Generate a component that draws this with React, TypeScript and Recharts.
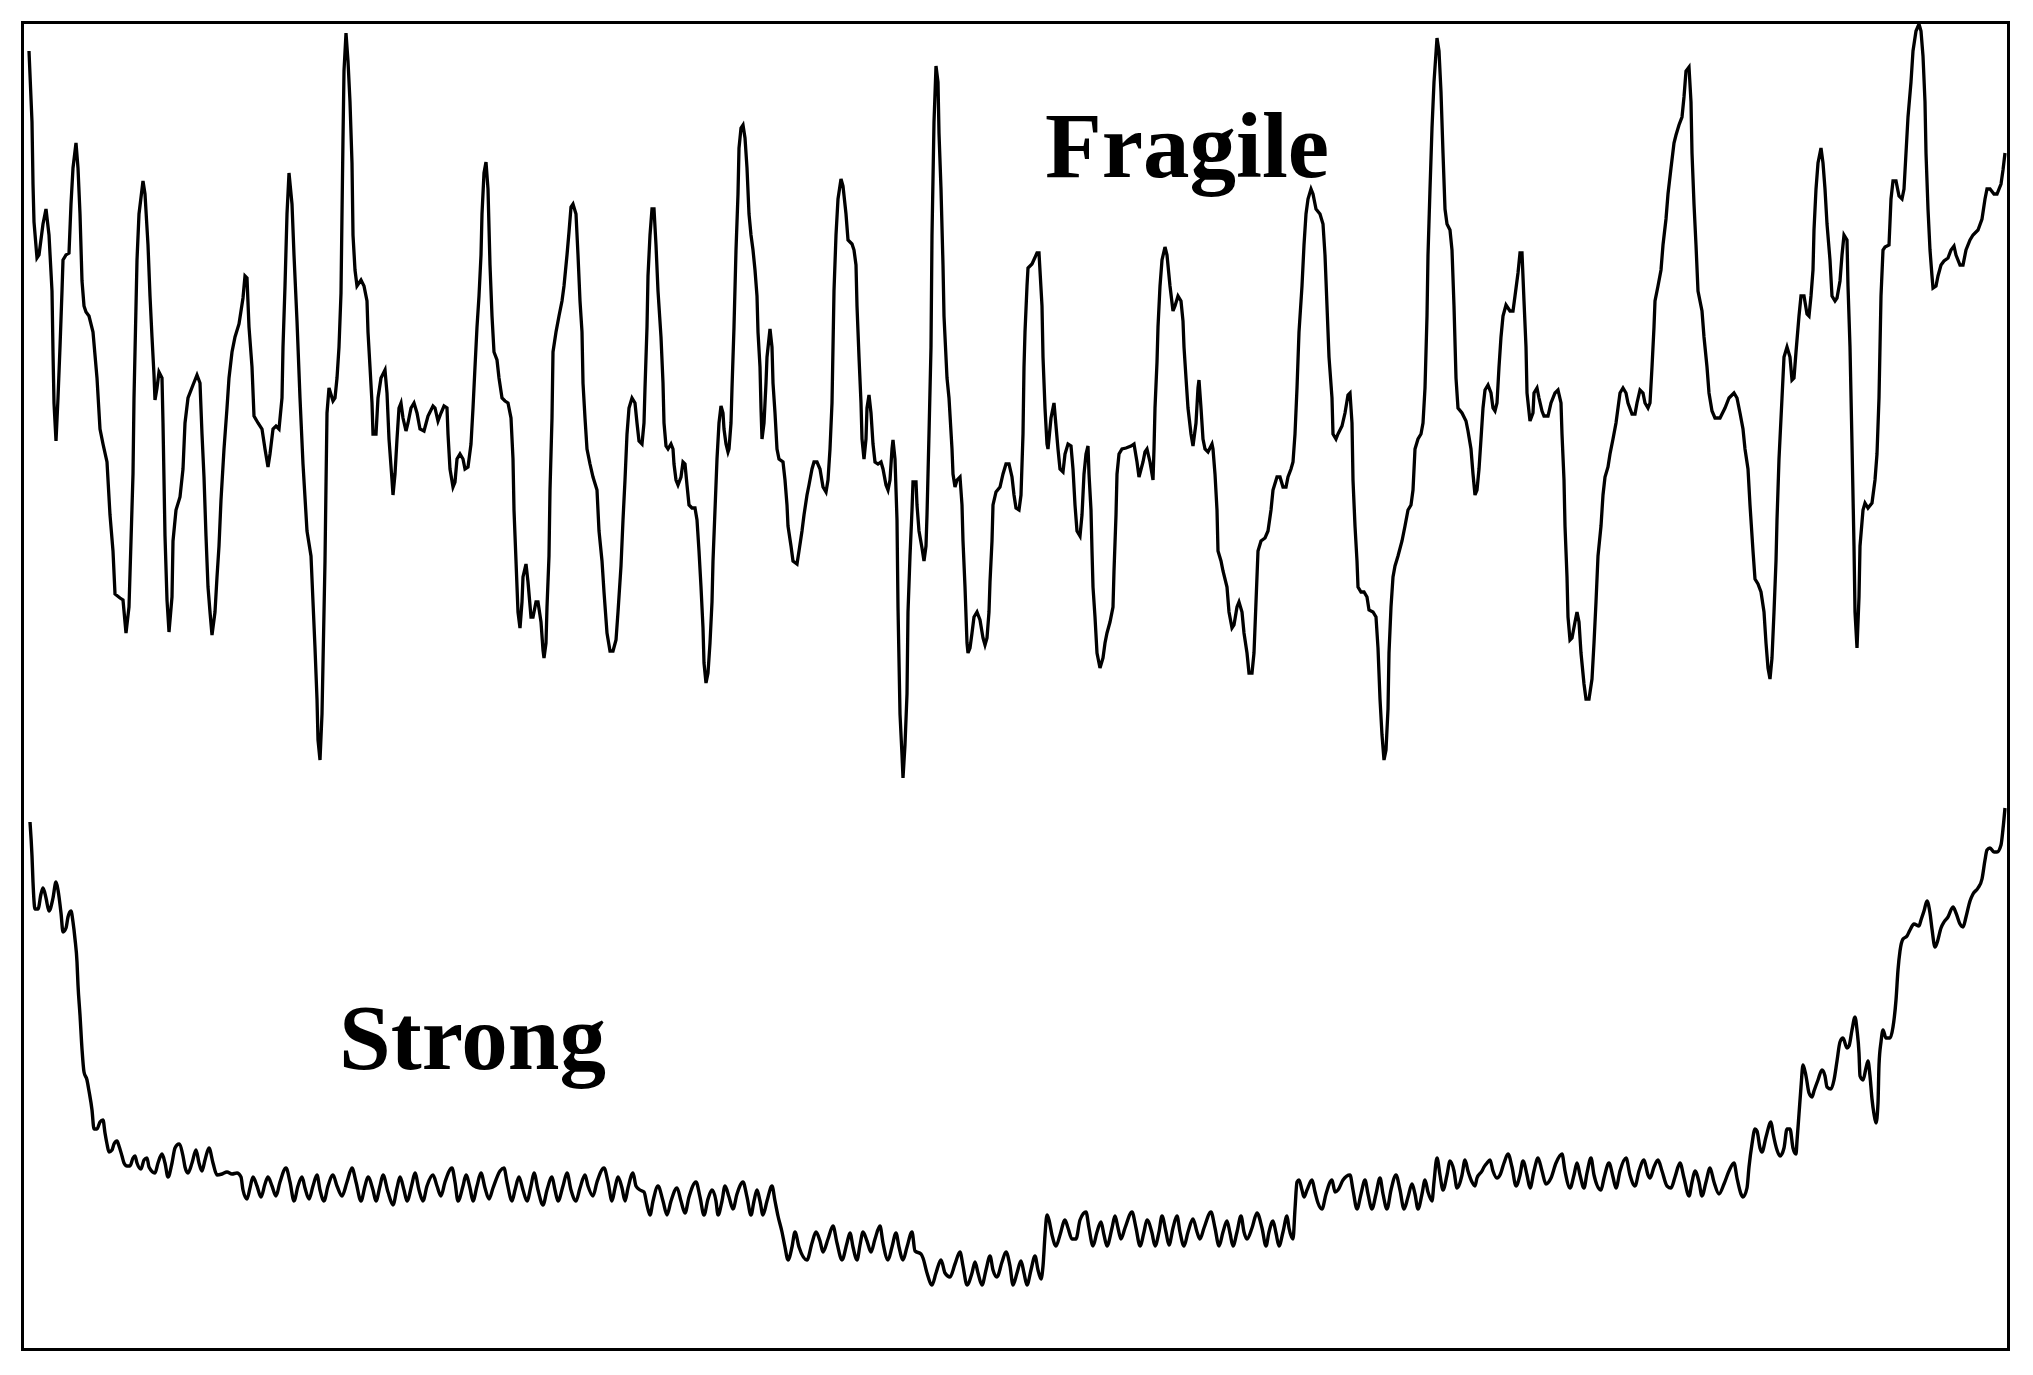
import React from 'react';
import { LineChart, Line, XAxis, YAxis } from 'recharts';

// signal traces: [time, amplitude]
const fragileA = [
  [6,1297],[9,1226],[10,1164],[11,1126],[14,1090],[16,1093],[20,1124],[23,1139],[26,1113],[29,1057],[30,996],[31,945],[33,907],[35,950],[37,1001],[39,1057],[40,1088],[43,1093],[46,1095],[48,1144],[50,1180],[53,1205],[55,1180],[57,1134],[59,1067],[61,1042],[63,1036],[66,1032],[70,1016],[74,970],[77,919],[80,904],[84,886],[87,833],[90,797],[92,754],[97,750],[100,748],[103,715],[106,741],[108,807],[110,874],[111,950],[113,1042],[114,1088],[116,1134],[120,1167],[122,1154],[125,1103],[127,1052],[129,1011],[131,973],[132,948],[134,960],[136,976],[139,970],[140,925],[142,812],[144,748],[146,716],[149,751],[150,807],[153,838],[157,851],[160,879],[162,925],[165,950],[170,963],[174,973],[177,965],[179,914],[181,871],[183,812],[185,761],[187,736],[189,713],[192,736],[194,771],[196,802],[198,848],[201,899],[204,940],[206,970],[209,996],[212,1011],[216,1024],[220,1050],[222,1072],[224,1070],[226,1021],[229,981],[231,932],[235,925],[239,919],[242,899],[245,881],[247,894],[250,919],[253,922],[256,919],[259,950],[260,1001],[262,1062],[264,1134],[266,1175],[269,1144],[271,1093],[274,1027],[277,950],[280,884],[284,817],[288,792],[290,746],[292,700],[294,649],[295,608],[297,588],[299,634],[300,685],[302,787],[303,863],[304,935],[306,960],[310,947],[312,950],[314,970],[316,1001],[318,1055],[319,1134],[320,1210],[321,1277],[323,1315],[325,1287],[327,1246],[329,1185],[330,1113],[332,1078],[334,1062],[338,1068],[341,1062],[344,1047],[345,1016],[347,981],[349,945],[350,914],[353,914],[355,950],[358,970],[362,978],[364,955],[366,909],[369,868],[370,853],[372,874],[374,909],[376,940],[378,945],[380,930],[383,917],[385,925],[388,940],[391,945],[394,935],[397,919],[401,917],[405,932],[410,942],[412,940],[415,927],[418,935],[421,942],[424,940],[425,914],[427,879],[430,861],[432,866],[434,889],[437,894],[440,889],[442,879],[445,881],[448,904],[450,940],[452,981],[454,1021],[456,1052],[458,1093],[459,1134],[461,1175],[463,1186],[465,1159],[467,1083],[469,1032],[471,996],[474,988],[476,970],[479,950],[482,947],[485,945],[488,930],[490,889],[491,838],[493,787],[495,736],[497,720],
];

const fragileB = [
  [499,746],[500,771],[503,784],[505,766],[508,731],[510,731],[513,746],[515,746],[518,726],[520,698],[521,690],[523,705],[524,741],[526,792],[527,858],[529,930],[530,996],[533,1016],[536,1032],[539,1047],[541,1062],[544,1093],[546,1116],[548,1141],[550,1144],[553,1134],[555,1093],[557,1047],[559,1016],[560,965],[562,930],[564,899],[567,884],[570,871],[574,858],[576,817],[579,787],[581,756],[584,715],[587,697],[590,697],[593,708],[595,736],[598,782],[600,828],[602,868],[604,914],[606,940],[609,950],[612,945],[614,925],[616,907],[619,904],[621,925],[622,960],[624,1021],[625,1072],[627,1113],[629,1139],[631,1139],[633,1103],[635,1057],[638,1011],[640,965],[641,925],[643,902],[645,899],[648,904],[650,899],[651,884],[653,868],[655,863],[658,871],[660,886],[662,884],[664,863],[666,843],[669,840],[672,840],[674,828],[676,797],[678,761],[680,720],[681,685],[683,665],[685,675],[687,705],[689,746],[690,787],[692,838],[694,889],[696,925],[698,942],[700,935],[701,919],[703,904],[705,896],[706,899],[708,925],[709,960],[711,1021],[713,1098],[715,1154],[716,1200],[718,1220],[720,1223],[722,1210],[724,1180],[726,1134],[728,1113],[730,1098],[732,1078],[734,1052],[735,1016],[737,981],[738,940],[739,909],[741,925],[743,965],[744,991],[747,1019],[749,1001],[750,965],[752,935],[754,899],[756,889],[760,886],[762,868],[764,843],[765,822],[768,802],[770,787],[774,784],[776,797],[779,817],[781,833],[784,853],[786,863],[789,879],[791,886],[794,886],[797,879],[800,861],[803,856],[805,868],[807,899],[809,945],[810,1001],[811,1057],[813,1113],[815,1149],[818,1169],[820,1162],[823,1134],[825,1108],[829,1104],[831,1098],[833,1083],[834,1042],[836,991],[838,945],[839,909],[841,889],[843,909],[844,940],[846,953],[848,935],[850,904],[852,886],[855,884],[858,886],[860,879],[863,863],[865,858],[867,868],[869,899],[870,908],[872,889],[874,828],[875,741],[877,634],[879,593],[880,570],[882,603],[884,654],[885,736],[887,792],[889,838],[890,866],[893,866],[894,843],[896,817],[899,800],[901,787],[903,802],[904,833],[906,914],[908,1001],[909,1113],[911,1226],[913,1282],[915,1266],[916,1215],[918,1159],[920,1083],[921,1032],[924,970],[926,950],[929,899],[930,874],[932,861],[934,868],[937,871],[939,843],[940,807],[942,761],[944,705],[945,695],[947,700],[949,715],[951,731],[954,736],[957,728],[960,710],[962,703],[964,710],[966,736],[967,766],[969,807],[970,843],[973,856],[977,861],[980,874],[983,884],[986,884],[989,871],[991,853],[993,840],[996,838],
];

const fragileC = [
  [998,853],[1000,914],[1001,981],[1002,1016],[1004,1062],[1005,1080],[1009,1084],[1014,1095],[1016,1095],[1019,1042],[1020,991],[1022,940],[1024,904],[1025,899],[1028,930],[1030,940],[1031,945],[1033,922],[1035,899],[1037,879],[1040,876],[1042,894],[1045,904],[1048,902],[1050,879],[1052,843],[1054,817],[1057,812],[1059,833],[1061,874],[1063,894],[1065,902],[1066,874],[1068,838],[1069,797],[1070,761],[1072,731],[1074,695],[1077,680],[1080,690],[1082,705],[1084,715],[1087,726],[1090,741],[1091,777],[1093,833],[1094,874],[1096,894],[1099,899],[1103,900],[1108,902],[1111,904],[1114,886],[1116,871],[1120,886],[1122,896],[1124,899],[1127,886],[1130,868],[1131,899],[1132,940],[1134,986],[1135,1021],[1137,1062],[1139,1088],[1142,1101],[1144,1093],[1147,1062],[1150,1037],[1152,1042],[1155,1052],[1158,1047],[1160,1027],[1161,1001],[1163,970],[1165,940],[1168,914],[1170,902],[1173,925],[1175,960],[1176,968],[1178,940],[1180,909],[1182,899],[1185,896],[1189,904],[1190,899],[1192,874],[1194,838],[1195,797],[1198,787],[1200,777],[1204,761],[1206,736],[1209,720],[1211,723],[1214,741],[1216,746],[1219,736],[1221,715],[1224,695],[1226,675],[1229,675],[1231,695],[1233,746],[1235,797],[1238,807],[1242,810],[1245,817],[1248,838],[1250,858],[1254,871],[1257,871],[1260,861],[1263,861],[1265,871],[1268,879],[1270,886],[1272,914],[1274,960],[1276,1016],[1279,1062],[1281,1103],[1283,1134],[1285,1149],[1288,1159],[1290,1154],[1293,1139],[1297,1134],[1300,1124],[1302,1093],[1304,1042],[1306,991],[1309,950],[1310,914],[1313,909],[1315,914],[1319,922],[1322,935],[1325,953],[1327,955],[1329,925],[1330,868],[1332,822],[1334,787],[1335,761],[1338,756],[1341,756],[1344,751],[1346,738],[1350,736],[1353,731],[1355,700],[1357,649],[1359,613],[1361,588],[1363,598],[1365,639],[1366,695],[1368,741],[1370,771],[1372,782],[1375,792],[1379,807],[1382,822],[1385,838],[1388,843],[1390,858],[1392,899],[1395,909],[1398,914],[1400,925],[1402,960],[1404,1032],[1405,1093],[1407,1159],[1409,1220],[1411,1266],[1414,1310],[1416,1297],[1418,1256],[1420,1195],[1422,1139],[1424,1124],[1427,1118],[1429,1098],[1431,1042],[1433,970],[1435,940],[1439,935],[1443,927],[1445,917],[1448,899],[1450,874],[1452,853],[1454,858],[1456,879],[1458,909],[1460,940],[1462,958],[1465,963],[1468,955],[1470,940],[1472,937],[1474,945],[1476,981],
];

const fragileD = [
  [1478,1011],[1480,1032],[1483,1043],[1487,1037],[1490,1037],[1492,1052],[1495,1075],[1497,1095],[1499,1095],[1501,1047],[1503,1001],[1504,955],[1507,927],[1510,935],[1511,955],[1514,960],[1516,950],[1519,937],[1521,932],[1525,932],[1528,945],[1532,955],[1535,958],[1538,945],[1539,914],[1541,868],[1542,822],[1544,771],[1545,731],[1547,708],[1549,710],[1552,726],[1554,736],[1556,726],[1558,695],[1561,664],[1563,649],[1566,649],[1569,669],[1571,705],[1573,746],[1575,792],[1578,822],[1580,853],[1582,871],[1585,881],[1587,894],[1590,909],[1593,925],[1595,940],[1597,955],[1600,960],[1603,955],[1605,945],[1609,934],[1612,934],[1614,945],[1617,958],[1620,955],[1622,945],[1625,940],[1627,945],[1629,981],[1631,1021],[1632,1047],[1635,1062],[1638,1078],[1640,1103],[1643,1129],[1645,1154],[1648,1180],[1651,1205],[1653,1213],[1656,1223],[1659,1231],[1661,1251],[1663,1277],[1666,1281],[1668,1246],[1669,1195],[1671,1144],[1673,1103],[1675,1057],[1679,1037],[1681,1011],[1684,981],[1686,955],[1689,937],[1692,930],[1697,930],[1702,940],[1706,950],[1711,955],[1714,950],[1717,935],[1720,919],[1722,899],[1725,879],[1727,843],[1730,797],[1732,769],[1735,764],[1738,756],[1741,736],[1743,705],[1745,680],[1747,669],[1749,690],[1751,736],[1753,787],[1754,828],[1756,889],[1759,950],[1761,991],[1764,1001],[1767,991],[1769,968],[1771,970],[1773,996],[1776,1032],[1778,1052],[1781,1052],[1784,1034],[1786,1032],[1788,1052],[1790,1078],[1791,1118],[1793,1159],[1795,1185],[1798,1200],[1800,1185],[1802,1159],[1804,1124],[1807,1088],[1809,1052],[1812,1047],[1814,1050],[1817,1067],[1819,1093],[1821,1113],[1824,1108],[1825,1062],[1827,1001],[1829,904],[1831,802],[1832,736],[1834,700],[1836,751],[1837,802],[1840,838],[1842,845],[1845,840],[1849,845],[1852,868],[1854,894],[1856,950],[1857,1001],[1858,1052],[1860,1098],[1862,1101],[1866,1103],[1868,1149],[1870,1167],[1873,1167],[1876,1152],[1879,1149],[1881,1159],[1883,1195],[1885,1231],[1888,1266],[1890,1297],[1893,1317],[1896,1324],[1898,1317],[1900,1292],[1902,1246],[1903,1195],[1905,1139],[1907,1098],[1909,1072],[1910,1060],[1913,1062],[1915,1072],[1918,1083],[1921,1087],[1925,1090],[1928,1098],[1931,1102],[1933,1093],[1937,1083],[1940,1083],[1943,1098],[1947,1108],[1950,1113],[1955,1118],[1959,1129],[1962,1149],[1964,1159],[1967,1159],[1971,1154],[1974,1154],[1978,1164],[1980,1178],[1982,1195],
];

const strongA = [
  [7,526],[9,492],[10,466],[12,439],[15,439],[18,454],[20,460],[23,450],[26,437],[30,450],[33,466],[35,458],[38,435],[40,416],[43,420],[45,431],[48,437],[50,426],[52,409],[54,386],[55,363],[57,333],[59,299],[61,276],[64,268],[66,257],[69,238],[71,219],[74,219],[77,226],[80,228],[82,215],[84,204],[86,196],[89,198],[91,204],[94,207],[96,202],[99,192],[101,185],[104,182],[107,182],[110,190],[112,192],[114,185],[118,179],[121,188],[124,190],[126,181],[132,175],[135,185],[139,194],[142,185],[145,171],[149,185],[152,200],[156,204],[160,192],[162,181],[165,175],[169,185],[173,198],[176,185],[179,177],[182,188],[186,200],[190,185],[194,173],[199,174],[204,176],[209,174],[214,175],[218,171],[220,158],[224,149],
];

const strongB = [
  [227,160],[230,171],[234,162],[238,151],[242,164],[245,171],[249,162],[253,152],[257,166],[263,180],[267,166],[271,147],[275,162],[279,171],[282,160],[286,149],[290,162],[294,173],[297,158],[301,147],[305,162],[310,173],[314,162],[319,152],[324,166],[329,180],[333,166],[338,147],[342,162],[345,171],[350,158],[353,147],[357,162],[360,173],[365,156],[370,143],[374,160],[377,171],[381,158],[384,147],[389,164],[392,175],[396,158],[400,147],[404,162],[410,173],[414,162],[418,152],[422,166],[429,180],[432,166],[435,147],[440,162],[443,173],[447,160],[450,147],[454,162],[458,175],[462,160],[466,149],[470,160],[477,177],[481,180],[484,166],[489,147],[492,158],[496,171],[500,158],[504,147],[508,162],[511,175],[515,158],[520,143],[524,158],[529,171],[532,158],[535,147],[540,162],[544,175],[548,158],[553,147],[557,160],[562,173],[565,162],[570,152],[574,166],[581,180],[585,166],[589,147],[592,160],[595,171],[599,160],[602,147],[605,160],[610,175],[613,162],[617,158],[621,156],[624,143],[627,133],[630,147],[635,162],[640,147],[644,133],[648,147],[654,160],[658,147],[662,135],[666,151],[673,166],[677,151],[681,133],[685,149],[689,158],[693,147],[695,133],[699,147],[702,162],[706,151],[710,139],[714,154],[720,166],[724,151],[728,133],[731,147],[734,158],[737,147],[740,133],[744,147],[749,162],[752,147],[755,132],
];

const strongC = [
  [759,116],[762,101],[765,88],[769,101],[772,116],[776,101],[784,88],[789,105],[793,116],[797,107],[800,96],[805,109],[810,122],[814,105],[819,88],[824,105],[827,115],[830,101],[834,88],[837,103],[840,116],[844,107],[848,96],[852,109],[857,122],[860,105],[865,88],[869,101],[873,115],[876,101],[880,88],[884,101],[889,116],[892,97],[898,94],[900,90],[904,75],[909,63],[913,75],[918,88],[922,75],[927,71],[932,84],[937,96],[940,82],[944,63],[949,75],[952,86],[955,75],[959,63],[963,78],[967,92],[970,78],[974,71],[979,86],[983,96],[987,82],[990,63],[994,75],[998,87],[1001,75],[1004,63],[1008,78],[1012,92],[1015,78],[1018,69],[1020,82],[1022,113],[1024,133],[1026,128],[1029,113],[1033,102],[1037,113],[1042,128],[1045,120],[1049,109],[1053,109],[1057,128],[1063,136],[1066,120],[1070,102],[1074,116],[1078,126],[1081,113],[1084,102],[1089,120],[1092,132],[1095,120],[1098,109],[1102,120],[1109,136],[1113,120],[1117,102],[1121,116],[1124,128],[1129,115],[1132,102],[1136,116],[1139,132],[1143,116],[1146,103],[1150,120],[1154,132],[1157,116],[1161,102],[1165,116],[1170,129],[1174,116],[1177,109],[1181,120],[1188,136],[1192,120],[1196,102],[1200,116],[1204,127],[1207,115],[1210,102],[1214,116],[1218,132],[1221,116],[1224,109],[1229,120],[1234,135],[1239,120],[1243,102],[1246,116],[1250,127],[1253,115],[1256,102],[1260,116],[1264,132],[1266,120],[1270,109],
];

const strongD = [
  [1272,139],[1274,166],[1276,168],[1279,158],[1281,151],[1284,158],[1289,168],[1292,156],[1295,145],[1299,139],[1303,154],[1309,168],[1312,156],[1315,158],[1320,168],[1327,173],[1330,158],[1334,139],[1338,154],[1342,168],[1345,154],[1349,139],[1353,154],[1357,170],[1360,154],[1364,139],[1368,158],[1373,173],[1377,158],[1381,139],[1385,151],[1389,164],[1392,154],[1395,139],[1399,154],[1402,168],[1405,156],[1409,147],[1411,166],[1414,190],[1417,173],[1420,158],[1424,173],[1427,187],[1431,177],[1434,160],[1439,173],[1442,188],[1445,177],[1449,166],[1452,162],[1454,170],[1459,177],[1461,181],[1464,185],[1467,188],[1470,177],[1474,170],[1477,173],[1481,185],[1485,194],[1489,181],[1493,162],[1497,173],[1500,187],[1504,173],[1507,160],[1511,177],[1515,190],[1519,177],[1523,164],[1528,170],[1533,185],[1539,194],[1542,177],[1547,160],[1551,173],[1554,185],[1557,173],[1561,160],[1564,175],[1568,190],[1571,173],[1578,158],[1581,170],[1586,185],[1590,171],[1593,160],[1597,177],[1603,190],[1607,173],[1612,162],[1616,177],[1621,188],[1625,173],[1627,170],[1631,181],[1635,188],[1639,177],[1644,162],[1648,160],[1652,171],[1657,185],[1661,170],[1666,152],[1669,166],[1672,177],[1676,166],[1679,152],[1683,166],[1687,180],[1691,166],[1696,154],[1701,164],[1706,177],[1711,185],[1714,170],[1718,154],[1720,151],[1724,160],[1726,181],[1729,204],[1732,219],[1734,217],[1737,200],[1739,196],[1743,211],[1748,226],[1750,215],[1754,198],[1757,192],[1761,200],[1764,219],[1767,219],[1770,200],[1773,194],[1774,207],[1776,234],[1778,261],[1780,283],[1783,272],[1786,255],[1789,251],[1791,257],[1795,268],[1799,278],[1802,272],[1804,261],[1808,259],[1811,268],[1814,287],[1817,306],[1820,310],[1824,300],[1826,302],[1829,318],[1832,331],[1834,318],[1836,295],[1837,272],[1840,268],[1843,280],[1845,287],[1847,272],[1849,249],[1851,234],[1853,225],[1855,245],[1856,283],[1858,306],[1860,318],[1863,310],[1867,310],[1870,321],[1873,348],[1875,378],[1877,397],[1880,409],[1884,412],[1887,418],[1891,424],[1896,422],[1898,428],[1901,437],[1904,447],[1907,435],[1909,419],[1912,401],[1914,405],[1918,420],[1921,426],[1925,431],[1930,441],[1933,435],[1937,424],[1940,421],[1943,431],[1947,447],[1950,454],[1955,460],[1959,469],[1962,488],[1964,498],[1967,500],[1971,496],[1974,496],[1978,503],[1980,519],[1982,540],
];

const X_MAX = 1984;
const Y_MAX = 1325;

const toPoints = (pairs: number[][]) => pairs.map(([x, y]) => ({ x, y }));

const fragileData = toPoints([...fragileA, ...fragileB, ...fragileC, ...fragileD]);
const strongData = toPoints([...strongA, ...strongB, ...strongC, ...strongD]);

const labelFont = '"Liberation Serif", "Times New Roman", serif';

export default function App() {
  return (
    <div style={{ position: 'absolute', left: 0, top: 0, width: 2033, height: 1375, background: '#fff' }}>
      <div
        style={{
          position: 'absolute',
          left: 21,
          top: 21,
          width: 1983,
          height: 1324,
          border: '3px solid #000',
        }}
      />
      <div style={{ position: 'absolute', left: 23, top: 23 }}>
        <LineChart width={X_MAX} height={Y_MAX} margin={{ top: 0, right: 0, bottom: 0, left: 0 }}>
          <XAxis type="number" dataKey="x" domain={[0, X_MAX]} hide allowDataOverflow />
          <YAxis type="number" domain={[0, Y_MAX]} hide allowDataOverflow />
          <Line
            data={fragileData}
            dataKey="y"
            type="linear"
            stroke="#000"
            strokeWidth={3.3}
            dot={false}
            activeDot={false}
            isAnimationActive={false}
          />
          <Line
            data={strongData}
            dataKey="y"
            type="monotone"
            stroke="#000"
            strokeWidth={3.4}
            dot={false}
            activeDot={false}
            isAnimationActive={false}
          />
        </LineChart>
      </div>
      <svg width={2033} height={1375} style={{ position: 'absolute', left: 0, top: 0, pointerEvents: 'none' }}>
        <text x={1045} y={177} fontFamily={labelFont} fontWeight="bold" fontSize={93} fill="#000">
          Fragile
        </text>
        <text x={339} y={1069} fontFamily={labelFont} fontWeight="bold" fontSize={93} fill="#000">
          Strong
        </text>
      </svg>
    </div>
  );
}
